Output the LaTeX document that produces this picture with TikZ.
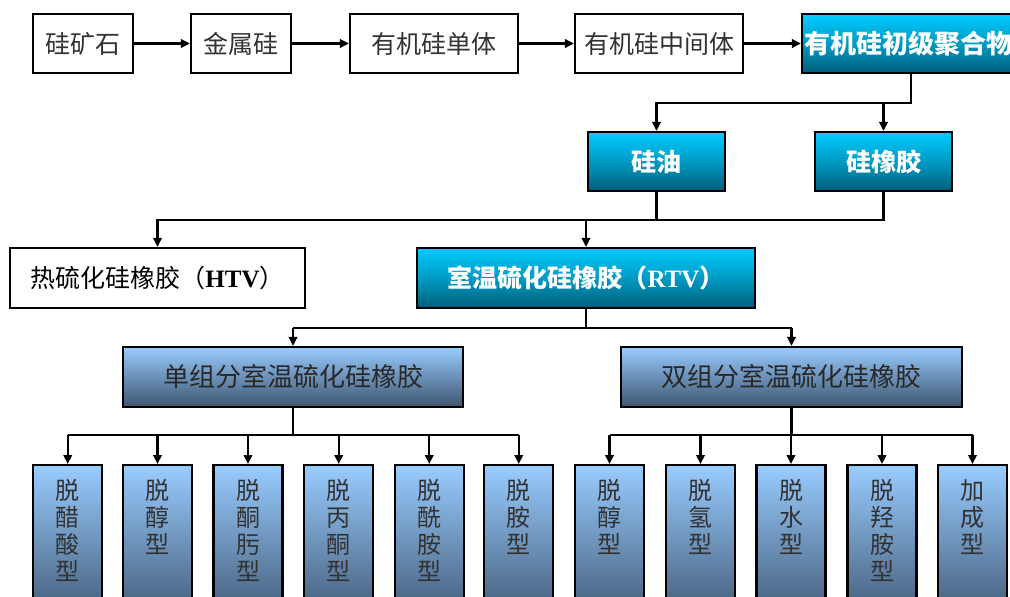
\documentclass[tikz,border=0pt]{standalone}
\usepackage{fontspec}
\setmainfont{Noto Sans CJK SC}
\newfontfamily\tnr{Liberation Serif}
\usetikzlibrary{arrows.meta}
\definecolor{cyTop}{RGB}{0,204,255}
\definecolor{cyBot}{RGB}{0,94,122}
\definecolor{blTop}{RGB}{153,204,255}
\definecolor{blBot}{RGB}{62,85,112}
\definecolor{txt}{RGB}{50,50,50}
\newcommand{\vtext}[1]{\parbox[t][150pt][t]{40pt}{\centering\vspace*{9pt}\fontsize{24}{27}\selectfont #1}}
\begin{document}
\begin{tikzpicture}[x=1pt,y=-1pt,
  plainbox/.style={draw=black, line width=2.2pt, fill=white, inner sep=0pt, text=txt, font=\fontsize{25}{28}\selectfont},
  cyanbox/.style={draw=black, line width=2.2pt, inner sep=0pt, top color=cyTop, bottom color=cyBot, middle color=cyTop!55!cyBot, text=white, font=\bfseries\fontsize{25}{28}\selectfont},
  bluebox/.style={draw=black, line width=2.2pt, inner sep=0pt, top color=blTop, bottom color=blBot, text=txt!80!black, font=\fontsize{26}{28}\selectfont},
  botbox/.style={draw=black, line width=2.2pt, inner sep=0pt, top color=blTop, bottom color=blBot, text=txt, minimum width=69pt, minimum height=161pt, anchor=north},
  arr/.style={-{Triangle[length=9pt,width=8.5pt]}, line width=2.1pt},
  ln/.style={line width=2.1pt}
]
\useasboundingbox (0,0) rectangle (1010,597);
\clip (0,0) rectangle (1010,597);
% top row
\node[plainbox, minimum width=100pt, minimum height=59pt] (b1) at (83,43.5) {硅矿石};
\node[plainbox, minimum width=100pt, minimum height=59pt] (b2) at (241,43.5) {金属硅};
\node[plainbox, minimum width=168pt, minimum height=59pt] (b3) at (434,43.5) {有机硅单体};
\node[plainbox, minimum width=168pt, minimum height=59pt] (b4) at (659,43.5) {有机硅中间体};
\node[cyanbox, minimum width=218pt, minimum height=59pt, font=\bfseries\fontsize{26}{28}\selectfont] (b5) at (911,43.5) {\makebox[216pt][l]{\hspace{1pt}有机硅初级聚合物}};
\draw[arr] (b1.east) -- (b2.west);
\draw[arr] (b2.east) -- (b3.west);
\draw[arr] (b3.east) -- (b4.west);
\draw[arr] (b4.east) -- (b5.west);
% second level
\node[cyanbox, minimum width=137pt, minimum height=59pt] (oil) at (656.5,161.5) {硅油};
\node[cyanbox, minimum width=137pt, minimum height=59pt] (rub) at (883.5,161.5) {硅橡胶};
\coordinate (j1) at (911,103);
\draw[arr] (b5.south) -- (j1) -| (oil.north);
\draw[arr] (j1 -| rub.north) -- (rub.north);
% third level
\node[plainbox, minimum width=295pt, minimum height=60pt, text=black] (htv) at (157.5,278) {热硫化硅橡胶（{\tnr\bfseries HTV}）};
\node[cyanbox, minimum width=338pt, minimum height=60pt] (rtv) at (586,278) {室温硫化硅橡胶（{\tnr\bfseries RTV}）};
\coordinate (j2) at (0,220);
\draw[ln] (oil.south) -- (oil.south |- j2);
\draw[arr] (rub.south) |- (htv.north |- j2) -- (htv.north);
\draw[arr] (rtv.north |- j2) -- (rtv.north);
% fourth level
\node[bluebox, minimum width=340pt, minimum height=60pt] (single) at (293,377) {单组分室温硫化硅橡胶};
\node[bluebox, minimum width=341pt, minimum height=60pt] (double) at (791.5,377) {双组分室温硫化硅橡胶};
\coordinate (j3) at (0,328);
\draw[ln] (rtv.south) -- (rtv.south |- j3);
\draw[arr] (single.north |- j3) -- (single.north);
\draw[arr] (double.north |- j3) -- (double.north);
\draw[ln] (single.north |- j3) -- (double.north |- j3);
% bottom boxes
\node[botbox] (s1) at (67.75,464) {\vtext{脱\\醋\\酸\\型}};
\node[botbox] (s2) at (157.5,464) {\vtext{脱\\醇\\型}};
\node[botbox] (s3) at (248,464) {\vtext{脱\\酮\\肟\\型}};
\node[botbox] (s4) at (338.75,464) {\vtext{脱\\丙\\酮\\型}};
\node[botbox] (s5) at (429.25,464) {\vtext{脱\\酰\\胺\\型}};
\node[botbox] (s6) at (518.75,464) {\vtext{脱\\胺\\型}};
\node[botbox] (d1) at (609.5,464) {\vtext{脱\\醇\\型}};
\node[botbox] (d2) at (700.5,464) {\vtext{脱\\氢\\型}};
\node[botbox] (d3) at (791,464) {\vtext{脱\\水\\型}};
\node[botbox] (d4) at (882,464) {\vtext{脱\\羟\\胺\\型}};
\node[botbox] (d5) at (972.5,464) {\vtext{加\\成\\型}};
\coordinate (j4) at (0,435);
\draw[ln] (single.south) -- (single.south |- j4);
\draw[ln] (s1.north |- j4) -- (s6.north |- j4);
\foreach \n in {s1,s2,s3,s4,s5,s6} \draw[arr] (\n.north |- j4) -- (\n.north);
\draw[ln] (double.south) -- (double.south |- j4);
\draw[ln] (d1.north |- j4) -- (d5.north |- j4);
\foreach \n in {d1,d2,d3,d4,d5} \draw[arr] (\n.north |- j4) -- (\n.north);
\end{tikzpicture}
\end{document}
